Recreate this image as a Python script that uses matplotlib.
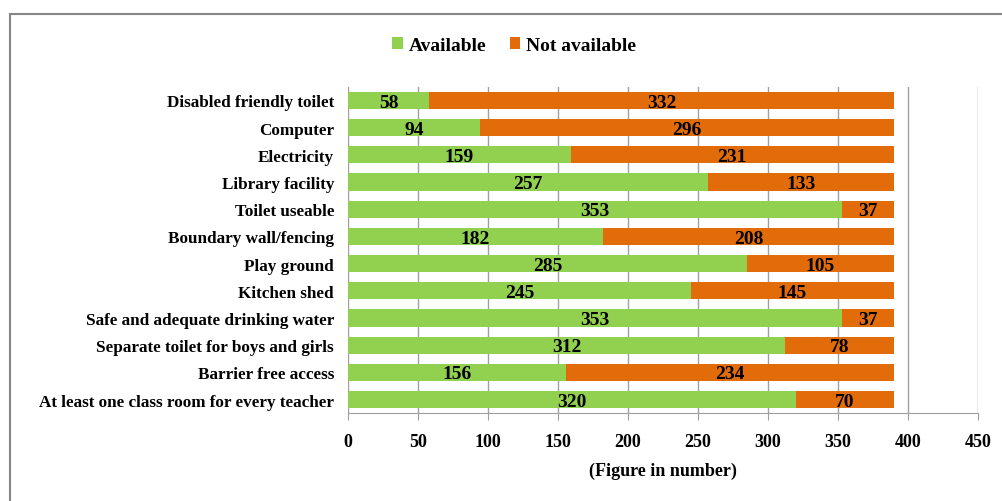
import numpy as np
import matplotlib.pyplot as plt
from matplotlib.patches import Rectangle

categories = ['Disabled friendly toilet', 'Computer', 'Electricity', 'Library facility',
              'Toilet useable', 'Boundary wall/fencing', 'Play ground', 'Kitchen shed',
              'Safe and adequate drinking water', 'Separate toilet for boys and girls',
              'Barrier free access', 'At least one class room for every teacher']
available = [58, 94, 159, 257, 353, 182, 285, 245, 353, 312, 156, 320]
not_available = [332, 296, 231, 133, 37, 208, 105, 145, 37, 78, 234, 70]
xticks = [0, 50, 100, 150, 200, 250, 300, 350, 400, 450]

green = '#92D050'
orange = '#E36C0A'

plt.rcParams['font.family'] = 'Liberation Serif'
plt.rcParams['font.weight'] = 'bold'

fig = plt.figure(figsize=(10.02, 5.02), dpi=100)
ax = fig.add_axes([0.3473, 0.175, 0.6287, 0.65])

y = np.arange(len(categories))
av = np.array(available)
na = np.array(not_available)
b1 = ax.barh(y, av, height=0.63, color=green, label='Available', zorder=3)
b2 = ax.barh(y, na, left=av, height=0.63, color=orange, label='Not available', zorder=3)

# value labels in the middle of each segment
for i in range(len(categories)):
    ax.text(av[i] / 2, y[i] + 0.06, str(av[i]), ha='center', va='center',
            fontsize=14, fontweight='bold', zorder=4)
    ax.text(av[i] + na[i] / 2, y[i] + 0.06, str(na[i]), ha='center', va='center',
            fontsize=14, fontweight='bold', zorder=4)

ax.set_ylim(len(categories) - 0.5, -0.5)
ax.set_xlim(0, 450)
ax.set_xticks(xticks)
ax.set_xticklabels([str(t) for t in xticks], fontsize=13, fontweight='bold')
ax.set_yticks(y)
ax.set_yticklabels(categories, fontsize=12.3, fontweight='bold')
ax.tick_params(axis='y', length=0, pad=10)
ax.tick_params(axis='x', length=5, color='#a0a0a0', pad=9)
ax.grid(axis='x', color='#a0a0a0', linewidth=1, zorder=0)
for s in ['top', 'right', 'left']:
    ax.spines[s].set_visible(False)
ax.spines['bottom'].set_color('#a0a0a0')
ax.set_xlabel('(Figure in number)', fontsize=13, fontweight='bold', labelpad=9)

fig.legend(handles=[b1, b2], loc='center', bbox_to_anchor=(0.513, 0.908), ncol=2,
           frameon=False, fontsize=14, handlelength=0.55, handleheight=0.55,
           handletextpad=0.3, columnspacing=1.2)

# outer chart border
fig.patches.append(Rectangle((0.01, -0.05), 1.2, 1.02, transform=fig.transFigure,
                             fill=False, edgecolor='#868686', linewidth=1.5))

fig.savefig('out.png', dpi=100)
